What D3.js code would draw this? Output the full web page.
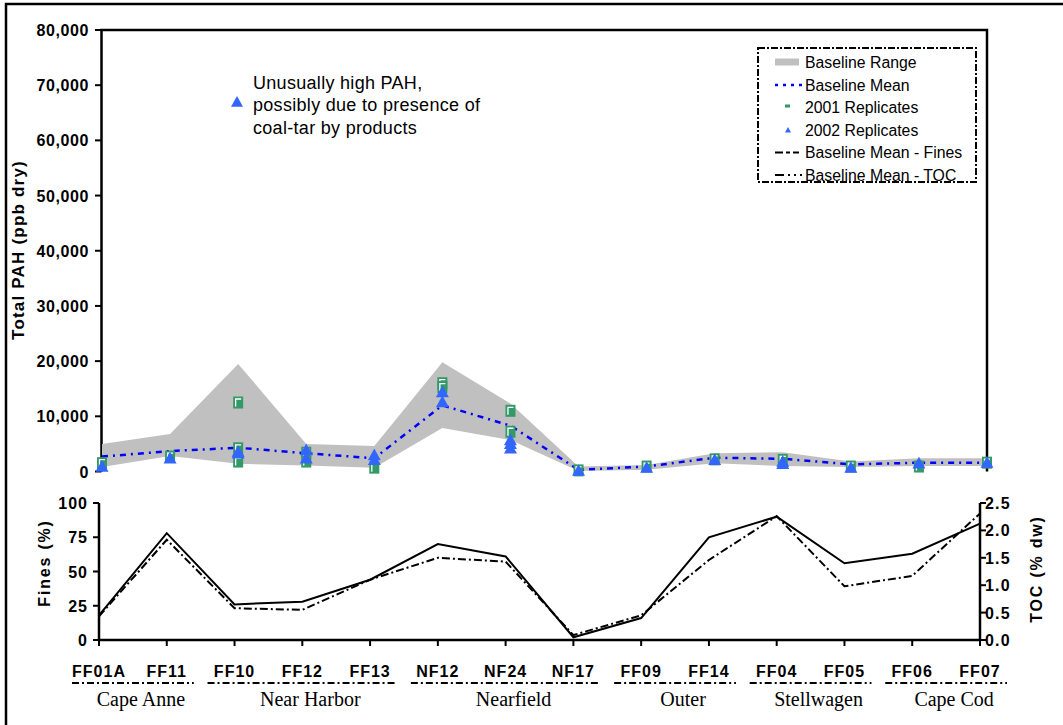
<!DOCTYPE html>
<html>
<head>
<meta charset="utf-8">
<script src="https://cdn.jsdelivr.net/npm/d3@7"></script>
<style>
body { margin: 0; background: #fff; }
text { font-family: "Liberation Sans", Arial, sans-serif; }
</style>
</head>
<body>
<script>
var w = 1063;
var h = 725;

// stations and their regions
var stations = ["FF01A","FF11","FF10","FF12","FF13","NF12","NF24","NF17","FF09","FF14","FF04","FF05","FF06","FF07"];
var groups = ["Cape Anne","Near Harbor","Nearfield","Outer","Stellwagen","Cape Cod"];
var groupStart = ["FF01A","FF10","NF12","FF09","FF04","FF06"];
var groupEnd = ["FF11","FF13","NF17","FF14","FF05","FF07"];

// total PAH (ppb dry)
var rangeHigh = [5000,6800,19500,5000,4600,19800,12300,900,1200,3300,3500,1800,2400,2400];
var rangeLow = [800,2800,1400,1100,700,7900,5700,100,300,1500,1000,800,1000,1000];
var baseMean = [2700,3700,4300,3300,2400,12000,8300,300,900,2500,2300,1300,1600,1600];
var rep2001 = [[1500],[2700],[12500,4200,1800],[3400,1800],[700],[16000,15300],[11000,7200],[200],[900],[2200],[2100],[900],[900],[1600]];
var rep2002 = [[900],[2400],[3600,3300],[3900,2400],[3000,2100],[14400,12600],[5700,4200,5000],[150],[700],[2100],[1800,1400],[700],[1500],[1600]];

// lower panel
var fines = [18,78,26,28,44,70,61,2,16,75,90,56,63,85];
var toc = [0.43,1.83,0.58,0.55,1.1,1.5,1.43,0.09,0.45,1.46,2.26,0.98,1.17,2.31];

var pahTicks = [0,10000,20000,30000,40000,50000,60000,70000,80000];
var fineTicks = [0,25,50,75,100];
var tocTicks = [0,0.5,1,1.5,2,2.5];

var legendItems = ["Baseline Range","Baseline Mean","2001 Replicates","2002 Replicates","Baseline Mean - Fines","Baseline Mean - TOC"];

var svg = d3.select("body").append("svg")
  .attr("width", w)
  .attr("height", h);

// outer frame (left + top only visible)
svg.append("path")
  .attr("d", "M6,725 V4 H1063")
  .attr("fill", "none")
  .attr("stroke", "#000")
  .attr("stroke-width", 2.5);

var x = d3.scalePoint().domain(stations).range([102, 987]);
var y = d3.scaleLinear().domain([0, 80000]).range([471.5, 30]);

var x2 = d3.scalePoint().domain(stations).range([99, 980]);
var yF = d3.scaleLinear().domain([0, 100]).range([640, 503]);
var yT = d3.scaleLinear().domain([0, 2.5]).range([640, 503]);

// ---------- upper panel ----------
svg.append("path")
  .attr("d", "M101.5,471.5 V30 H987 V471.5")
  .attr("fill", "none")
  .attr("stroke", "#000")
  .attr("stroke-width", 2.5);

svg.selectAll(".ytick")
  .data(pahTicks)
  .enter().append("line")
  .attr("x1", 95).attr("x2", 101.5)
  .attr("y1", function(d) { return y(d); })
  .attr("y2", function(d) { return y(d); })
  .attr("stroke", "#000")
  .attr("stroke-width", 2);

svg.selectAll(".ylab")
  .data(pahTicks)
  .enter().append("text")
  .attr("x", 89)
  .attr("y", function(d) { return y(d) + 6; })
  .attr("text-anchor", "end")
  .attr("font-size", 16)
  .attr("font-weight", "bold")
  .attr("letter-spacing", 0.6)
  .text(function(d) { return d3.format(",")(d); });

svg.append("text")
  .attr("transform", "translate(23.5,250) rotate(-90)")
  .attr("text-anchor", "middle")
  .attr("font-size", 17)
  .attr("font-weight", "bold")
  .attr("letter-spacing", 1.2)
  .text("Total PAH (ppb dry)");

var area = d3.area()
  .x(function(d, i) { return x(stations[i]); })
  .y0(function(d, i) { return y(rangeLow[i]); })
  .y1(function(d) { return y(d); });

svg.append("path")
  .datum(rangeHigh)
  .attr("d", area)
  .attr("fill", "#c0c0c0");

var meanLine = d3.line()
  .x(function(d, i) { return x(stations[i]); })
  .y(function(d) { return y(d); });

svg.append("path")
  .datum(baseMean)
  .attr("d", meanLine)
  .attr("fill", "none")
  .attr("stroke", "#0000ff")
  .attr("stroke-width", 2.5)
  .attr("stroke-dasharray", "6,5,2,5");

// flatten replicates
var pts2001 = [];
rep2001.forEach(function(vals, i) {
  vals.forEach(function(v) { pts2001.push({ s: stations[i], v: v }); });
});
var pts2002 = [];
rep2002.forEach(function(vals, i) {
  vals.forEach(function(v) { pts2002.push({ s: stations[i], v: v }); });
});

var sq = svg.selectAll(".sq")
  .data(pts2001)
  .enter().append("g")
  .attr("transform", function(d) { return "translate(" + x(d.s) + "," + y(d.v) + ")"; });
sq.append("rect")
  .attr("x", -5).attr("y", -6)
  .attr("width", 10).attr("height", 12)
  .attr("fill", "#339966");
sq.append("path")
  .attr("d", "M-2.5,4 V-3.5 H3")
  .attr("fill", "none")
  .attr("stroke", "#fff")
  .attr("stroke-width", 1.3);

function tri(cx, cy, s) {
  return "M" + (cx - s) + "," + (cy + s * 0.8) + " L" + cx + "," + (cy - s) + " L" + (cx + s) + "," + (cy + s * 0.8) + " Z";
}

svg.selectAll(".tri")
  .data(pts2002)
  .enter().append("path")
  .attr("d", function(d) { return tri(x(d.s), y(d.v), 6.5); })
  .attr("fill", "#3366ff");

// annotation
svg.append("path")
  .attr("d", tri(237, 102, 6))
  .attr("fill", "#3366ff");
var ann = svg.append("text")
  .attr("font-size", 18)
  .attr("letter-spacing", 0.3)
  .attr("fill", "#000");
["Unusually high PAH,", "possibly due to presence of", "coal-tar by products"].forEach(function(t, i) {
  ann.append("tspan").attr("x", 253).attr("y", 88.5 + i * 22.5).text(t);
});

// legend
var lg = svg.append("g");
lg.append("rect")
  .attr("x", 758).attr("y", 48)
  .attr("width", 218).attr("height", 134)
  .attr("fill", "#fff")
  .attr("stroke", "#000")
  .attr("stroke-width", 2)
  .attr("stroke-dasharray", "7,2,2,2");

var ly = function(i) { return 62.5 + i * 22.5; };
lg.selectAll("text")
  .data(legendItems)
  .enter().append("text")
  .attr("x", 805)
  .attr("y", function(d, i) { return ly(i) + 5.5; })
  .attr("font-size", 15.8)
  .text(function(d) { return d; });

lg.append("rect").attr("x", 775).attr("y", ly(0) - 4).attr("width", 24).attr("height", 7).attr("fill", "#c0c0c0");
lg.append("line").attr("x1", 775).attr("x2", 802).attr("y1", ly(1)).attr("y2", ly(1))
  .attr("stroke", "#0000ff").attr("stroke-width", 2.5).attr("stroke-dasharray", "3,5");
lg.append("rect").attr("x", 785).attr("y", ly(2) - 3).attr("width", 5).attr("height", 3).attr("fill", "#339966");
lg.append("path").attr("d", tri(788, ly(3), 3)).attr("fill", "#3366ff");
lg.append("line").attr("x1", 775).attr("x2", 799).attr("y1", ly(4)).attr("y2", ly(4))
  .attr("stroke", "#000").attr("stroke-width", 2).attr("stroke-dasharray", "8,3,4,3");
lg.append("line").attr("x1", 775).attr("x2", 802).attr("y1", ly(5)).attr("y2", ly(5))
  .attr("stroke", "#000").attr("stroke-width", 2).attr("stroke-dasharray", "9,4,2,4,2,4");

// ---------- lower panel ----------
svg.append("path")
  .attr("d", "M99,503 V640 H980 V503")
  .attr("fill", "none")
  .attr("stroke", "#000")
  .attr("stroke-width", 2.5);

svg.selectAll(".ftick")
  .data(fineTicks)
  .enter().append("line")
  .attr("x1", 93).attr("x2", 99)
  .attr("y1", function(d) { return yF(d); })
  .attr("y2", function(d) { return yF(d); })
  .attr("stroke", "#000").attr("stroke-width", 2);

svg.selectAll(".flab")
  .data(fineTicks)
  .enter().append("text")
  .attr("x", 88)
  .attr("y", function(d) { return yF(d) + 6; })
  .attr("text-anchor", "end")
  .attr("font-size", 16)
  .attr("font-weight", "bold")
  .attr("letter-spacing", 1)
  .text(function(d) { return d; });

svg.selectAll(".ttick")
  .data(tocTicks)
  .enter().append("line")
  .attr("x1", 980).attr("x2", 986)
  .attr("y1", function(d) { return yT(d); })
  .attr("y2", function(d) { return yT(d); })
  .attr("stroke", "#000").attr("stroke-width", 2);

svg.selectAll(".tlab")
  .data(tocTicks)
  .enter().append("text")
  .attr("x", 985)
  .attr("y", function(d) { return yT(d) + 6; })
  .attr("font-size", 16)
  .attr("font-weight", "bold")
  .attr("letter-spacing", 1.2)
  .text(function(d) { return d3.format(".1f")(d); });

svg.selectAll(".xtick")
  .data(stations)
  .enter().append("line")
  .attr("x1", function(d) { return x2(d); })
  .attr("x2", function(d) { return x2(d); })
  .attr("y1", 640).attr("y2", 646)
  .attr("stroke", "#000").attr("stroke-width", 2);

svg.append("text")
  .attr("transform", "translate(50,563) rotate(-90)")
  .attr("text-anchor", "middle")
  .attr("font-size", 16)
  .attr("font-weight", "bold")
  .attr("letter-spacing", 1.8)
  .text("Fines (%)");

svg.append("text")
  .attr("transform", "translate(1042,569) rotate(-90)")
  .attr("text-anchor", "middle")
  .attr("font-size", 16)
  .attr("font-weight", "bold")
  .attr("letter-spacing", 1.8)
  .text("TOC (% dw)");

svg.append("path")
  .datum(fines)
  .attr("d", d3.line()
    .x(function(d, i) { return x2(stations[i]); })
    .y(function(d) { return yF(d); }))
  .attr("fill", "none")
  .attr("stroke", "#000")
  .attr("stroke-width", 2);

svg.append("path")
  .datum(toc)
  .attr("d", d3.line()
    .x(function(d, i) { return x2(stations[i]); })
    .y(function(d) { return yT(d); }))
  .attr("fill", "none")
  .attr("stroke", "#000")
  .attr("stroke-width", 2)
  .attr("stroke-dasharray", "8,3,2,3");

// station labels
svg.selectAll(".slab")
  .data(stations)
  .enter().append("text")
  .attr("x", function(d) { return x2(d); })
  .attr("y", 677)
  .attr("text-anchor", "middle")
  .attr("font-size", 16)
  .attr("font-weight", "bold")
  .attr("letter-spacing", 1)
  .text(function(d) { return d; });

// region underlines + names
groups.forEach(function(g, i) {
  var a = x2(groupStart[i]), b = x2(groupEnd[i]);
  svg.append("line")
    .attr("x1", a - 27).attr("x2", b + 27)
    .attr("y1", 683).attr("y2", 683)
    .attr("stroke", "#000")
    .attr("stroke-width", 2)
    .attr("stroke-dasharray", "7,3,2,3");
  svg.append("text")
    .attr("x", (a + b) / 2 + 8)
    .attr("y", 706)
    .attr("text-anchor", "middle")
    .style("font-family", "'Liberation Serif', 'Times New Roman', serif")
    .attr("font-size", 20)
    .text(g);
});
</script>
</body>
</html>
